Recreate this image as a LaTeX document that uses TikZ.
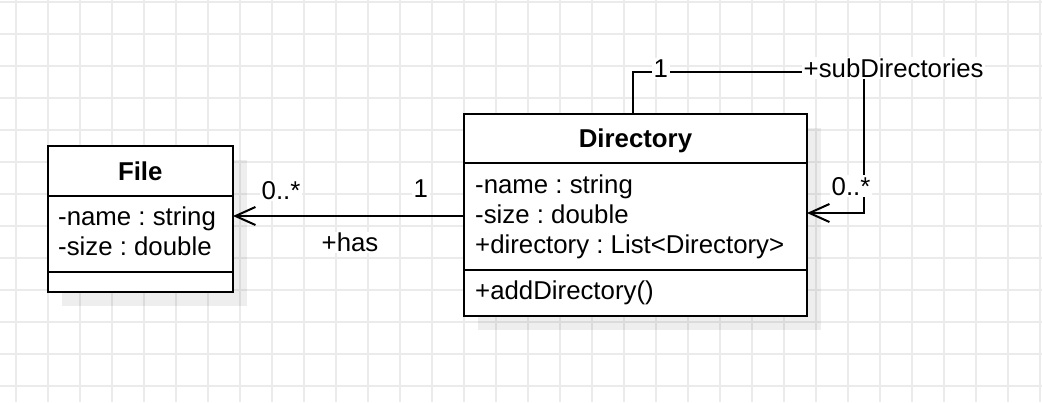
\documentclass[tikz,border=0pt]{standalone}
\usepackage{fontspec}
\setmainfont{Liberation Sans}
\usetikzlibrary{arrows.meta,calc}
\definecolor{gridc}{HTML}{EBEBEB}
\frenchspacing
\begin{document}
\begin{tikzpicture}[x=1pt,y=-1pt,
  classbox/.style={draw, fill=white, line width=2pt, rectangle, inner sep=0pt, outer sep=0pt},
  shadowbox/.style={fill=black, fill opacity=0.065},
  txt/.style={font=\fontsize{25.8}{30}\selectfont, inner sep=0pt, anchor=base west},
  ttl/.style={font=\fontsize{25.8}{30}\selectfont\bfseries, inner sep=0pt, anchor=base},
  lbl/.style={font=\fontsize{25.8}{30}\selectfont, inner sep=1.5pt, anchor=base west, fill=white},
  assoc/.style={draw, line width=2pt, -{Straight Barb[length=20pt,width=18pt]}},
  sepline/.style={line width=2pt}
]
\useasboundingbox (0,0) rectangle (1042,402);
\fill[white] (0,0) rectangle (1042,402);
% grid
\foreach \gx in {16,48,...,1040} \draw[gridc, line width=1.6pt] (\gx,0) -- (\gx,402);
\foreach \gy in {2,34,...,400} \draw[gridc, line width=1.6pt] (0,\gy) -- (1042,\gy);

% File class
\node[classbox, minimum width=185.5pt, minimum height=146pt, fill=none, draw=none] (file) at (140.25,219) {};
\fill[shadowbox] ($(file.north west)+(14,14)$) rectangle ($(file.south east)+(14,14)$);
\node[classbox, minimum width=185.5pt, minimum height=146pt] at (file) {};
\draw[sepline] (file.west |- 0,195.7) -- (file.east |- 0,195.7);
\draw[sepline] (file.west |- 0,271.7) -- (file.east |- 0,271.7);
\node[ttl] (fileT) at (140.25,180) {File};
\node[txt] (fileA1) at (58,225) {-name : string};
\node[txt] (fileA2) at (58,255) {-size : double};

% Directory class
\node[classbox, minimum width=343pt, minimum height=201.7pt, fill=none, draw=none] (dir) at (635.5,214.85) {};
\fill[shadowbox] ($(dir.north west)+(14,14)$) rectangle ($(dir.south east)+(14,14)$);
\node[classbox, minimum width=343pt, minimum height=201.7pt] at (dir) {};
\draw[sepline] (dir.west |- 0,163.3) -- (dir.east |- 0,163.3);
\draw[sepline] (dir.west |- 0,270) -- (dir.east |- 0,270);
\node[ttl] (dirT) at (635.5,147.7) {Directory};
\node[txt] (dirA1) at (475,193.3) {-name : string};
\node[txt] (dirA2) at (475,223.3) {-size : double};
\node[txt] (dirA3) at (475,253) {+directory : List<Directory>};
\node[txt] (dirM1) at (475,299.3) {+addDirectory()};

% association Directory -> File
\draw[assoc] (dir.west |- 0,216) -- (file.east |- 0,216);
\node[lbl] (l0) at (260,199.3) {0..*};
\node[lbl] (l1) at (412,197.7) {1};
\node[lbl] (lhas) at (320,251.7) {+has};

% self association
\draw[assoc] (dir.north -| 633,0) |- (864,72) |- (dir.east |- 0,213);
\node[lbl] (s1) at (652,77.3) {1};
\node[lbl] (ssub) at (802,77.3) {+subDirectories};
\node[lbl] (s0) at (830,195) {0..*};
\end{tikzpicture}
\end{document}
